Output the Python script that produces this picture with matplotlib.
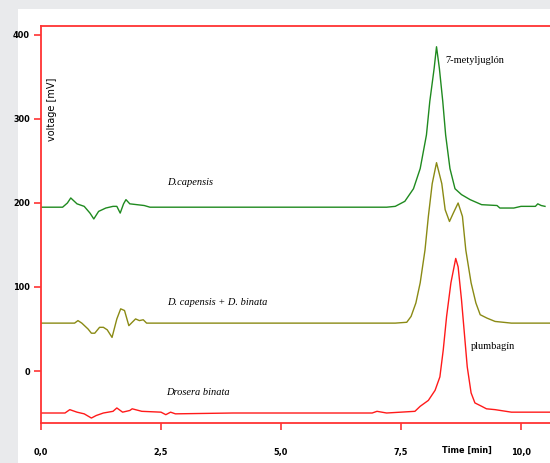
import numpy as np
from matplotlib import pyplot as plt
from matplotlib.patches import Rectangle

t_capensis = [0.0, 0.45, 0.55, 0.62, 0.75, 0.9, 1.02, 1.1, 1.2, 1.35, 1.5, 1.58, 1.65, 1.72, 1.77, 1.85,
              2.0, 2.15, 2.27, 4.0, 7.2, 7.38, 7.58, 7.76, 7.9, 8.03, 8.10, 8.19, 8.24, 8.30, 8.37,
              8.43, 8.52, 8.625, 8.76, 8.94, 9.18, 9.5, 9.56, 9.85, 10.0, 10.3, 10.35, 10.42, 10.5]
v_capensis = [195, 195, 200, 206, 199, 196, 188, 181, 190, 194, 196, 196, 188, 199, 204, 199,
              198, 197, 195, 195, 195, 196, 202, 217, 241, 281, 321, 360, 386, 360, 321,
              281, 241, 217, 210, 204, 198, 197, 194, 194, 196, 196, 199, 197, 196]

t_mezcla = [0.0, 0.7, 0.77, 0.85, 0.98, 1.05, 1.12, 1.22, 1.3, 1.38, 1.48, 1.58, 1.66, 1.74,
            1.83, 1.9, 1.97, 2.05, 2.13, 2.2, 4.0, 7.38, 7.62, 7.71, 7.81, 7.9, 8.0, 8.07, 8.15,
            8.24, 8.35, 8.42, 8.51, 8.59, 8.69, 8.78, 8.85, 8.96, 9.06, 9.15, 9.29, 9.46, 9.8, 10.6]
v_mezcla = [57, 57, 60, 57, 50, 45, 45, 52, 52, 49, 40, 62, 74, 72,
            54, 58, 62, 60, 61, 57, 57, 57, 58, 65, 81, 105, 144, 184, 223,
            248, 223, 192, 178, 188, 200, 184, 144, 105, 81, 67, 63, 59, 57, 57]

t_binata = [0.0, 0.5, 0.6, 0.75, 0.9, 1.05, 1.15, 1.3, 1.5, 1.58, 1.7, 1.85, 1.9, 2.1, 2.5,
            2.6, 2.7, 2.8, 4.0, 6.9, 7.0, 7.2, 7.79, 7.9, 8.07, 8.21, 8.31, 8.38, 8.45, 8.54,
            8.64, 8.69, 8.76, 8.82, 8.88, 8.96, 9.04, 9.18, 9.28, 9.46, 9.8, 10.6]
v_binata = [-50, -50, -46, -49, -51, -56, -53, -50, -48, -44, -49, -47, -45, -48, -49,
            -52, -49, -51, -50, -50, -48, -50, -48, -42, -35, -23, -7, 25, 65, 105,
            134, 124, 85, 45, 5, -26, -38, -42, -45, -46, -49, -49]

etiquetas = ["D.capensis", "D. capensis + D. binata", "Drosera binata"]
picos = ["7-metyljuglón", "plumbagín"]
xticks = [0.0, 2.5, 5.0, 7.5, 10.0]
xtick_labels = ["0,0", "2,5", "5,0", "7,5", "10,0"]
yticks = [0, 100, 200, 300, 400]

rojo = '#ff3333'

fig = plt.figure(figsize=(5.5, 4.63), dpi=100)
fig.patch.set_facecolor('#e9eaec')
fig.patches.append(Rectangle((18 / 550, 0), 1, 1 - 9 / 463, transform=fig.transFigure,
                             facecolor='white', edgecolor='none', zorder=-10))

ax = fig.add_axes([41 / 550, 1 - 423 / 463, 509 / 550, (423 - 26) / 463])
ax.patch.set_alpha(0)

ax.plot(t_capensis, v_capensis, color='#1f8a1f', lw=1.0)
ax.plot(t_mezcla, v_mezcla, color='#8a8a14', lw=1.0)
ax.plot(t_binata, v_binata, color='#ff1a1a', lw=1.0)

ax.set_xlim(0, 509 / 48)
ax.set_ylim(-61.9, 410.7)

for lado in ['left', 'top', 'bottom']:
    ax.spines[lado].set_color(rojo)
    ax.spines[lado].set_linewidth(1.3)
ax.spines['right'].set_visible(False)

fuente_ticks = dict(family='DejaVu Sans', stretch='condensed', fontsize=6.5, fontweight='bold')
ax.set_xticks(xticks)
ax.set_xticklabels(xtick_labels, **fuente_ticks)
ax.set_yticks(yticks)
ax.set_yticklabels([str(v) for v in yticks], **fuente_ticks)
ax.tick_params(axis='both', direction='out', color=rojo, length=5, width=1.2, pad=13)
ax.tick_params(axis='y', pad=3, length=5)

ax.text(0.23, 311, "voltage [mV]", rotation=90, fontsize=7, ha='center', va='center',
        family='DejaVu Sans')
fig.text(467 / 550, 1 - 450 / 463, "Time [min]", fontsize=6.5, fontweight='bold',
         ha='center', va='center', family='DejaVu Sans', stretch='condensed')

serif = dict(family='Liberation Serif', style='italic', fontsize=7.5)
ax.text(2.63, 224, etiquetas[0], ha='left', va='center', **serif)
ax.text(2.63, 81, etiquetas[1], ha='left', va='center', **serif)
ax.text(2.60, -26, etiquetas[2], ha='left', va='center', **serif)

ax.text(8.42, 370, picos[0], ha='left', va='center', family='Liberation Serif', fontsize=7.5)
ax.text(8.96, 29, picos[1], ha='left', va='center', family='Liberation Serif', fontsize=7.5)

plt.savefig('out.png', dpi=100, facecolor=fig.get_facecolor())
